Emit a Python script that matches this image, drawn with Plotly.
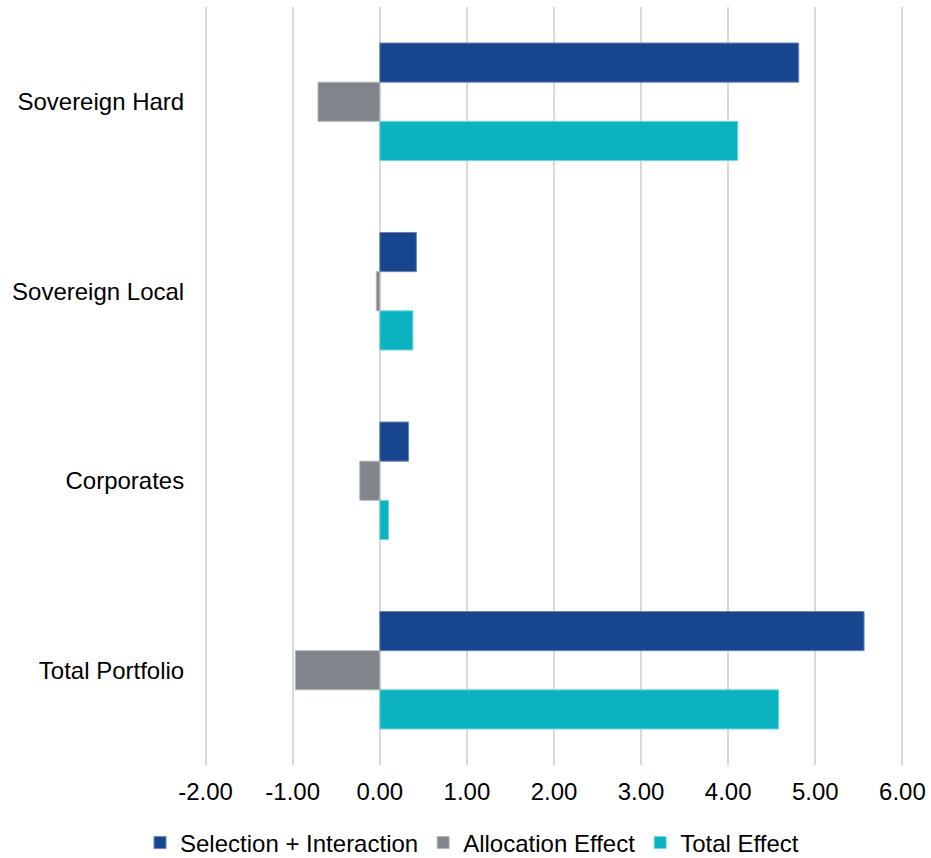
import plotly.graph_objects as go

# Attribution by segment (percentage points)
categories = ["Sovereign Hard", "Sovereign Local", "Corporates", "Total Portfolio"]
selection_interaction = [4.81, 0.42, 0.33, 5.56]
allocation_effect = [-0.71, -0.04, -0.23, -0.97]
total_effect = [4.11, 0.38, 0.10, 4.58]

x_ticks = [-2, -1, 0, 1, 2, 3, 4, 5, 6]
x_tick_labels = ["-2.00", "-1.00", "0.00", "1.00", "2.00", "3.00", "4.00", "5.00", "6.00"]

FONT = "Liberation Sans, Arial, sans-serif"

series = [
    ("Selection + Interaction", selection_interaction, "#17468E", "#6A86B8"),
    ("Allocation Effect", allocation_effect, "#7F858B", "#B4B8BC"),
    ("Total Effect", total_effect, "#0BB2C0", "#6FD9E2"),
]

fig = go.Figure()
for name, vals, color, edge in series:
    fig.add_trace(go.Bar(
        name=name,
        y=categories,
        x=vals,
        orientation="h",
        marker=dict(color=color, line=dict(color=edge, width=1)),
    ))

fig.update_layout(
    width=931,
    height=858,
    barmode="group",
    bargap=0.38,
    bargroupgap=0,
    plot_bgcolor="white",
    paper_bgcolor="white",
    font=dict(family=FONT, size=24, color="#000000"),
    margin=dict(l=203, r=26, t=7, b=93, autoexpand=False),
    showlegend=True,
    legend=dict(
        orientation="h",
        yref="container",
        y=0.0175,
        yanchor="middle",
        xref="container",
        x=0.507,
        xanchor="center",
        font=dict(family=FONT, size=24, color="#000000"),
        itemwidth=30,
        traceorder="normal",
    ),
    xaxis=dict(
        range=[-2.03, 6.03],
        tickvals=x_ticks,
        ticktext=x_tick_labels,
        showgrid=True,
        gridcolor="#D9D9D9",
        gridwidth=2,
        zeroline=True,
        zerolinecolor="#D9D9D9",
        zerolinewidth=2,
        showline=False,
        ticks="outside",
        ticklen=5,
        tickcolor="rgba(0,0,0,0)",
    ),
    yaxis=dict(
        autorange="reversed",
        showgrid=False,
        zeroline=False,
        showline=False,
        ticks="outside",
        ticklen=13,
        tickcolor="rgba(0,0,0,0)",
    ),
)

fig.write_html("out.html")
